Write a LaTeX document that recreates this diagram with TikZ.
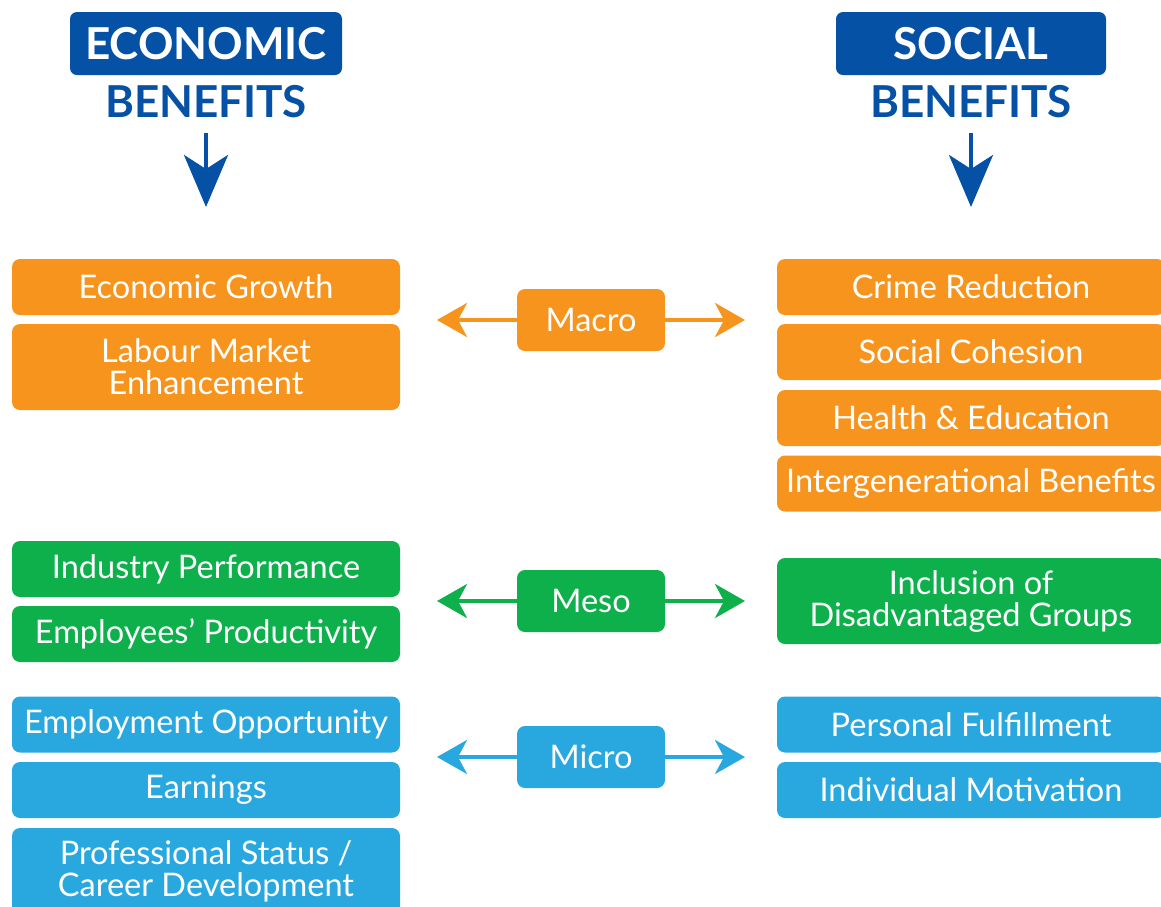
\documentclass[tikz,border=0pt]{standalone}
\usepackage{fontspec}
\setmainfont{Lato}
\usepackage{tikz}
\usetikzlibrary{arrows.meta, positioning}

\definecolor{darkblue}{HTML}{0451A5}
\definecolor{macroorange}{HTML}{F7941D}
\definecolor{mesogreen}{HTML}{0DB04B}
\definecolor{microblue}{HTML}{29A8E0}

\begin{document}
\begin{tikzpicture}[x=1pt, y=-1pt,
    box/.style    = {rounded corners=8pt, text=white, align=center,
                     minimum width=388pt, minimum height=56pt, inner sep=0pt,
                     font=\fontsize{32.5}{32}\selectfont},
    tall/.style   = {minimum height=86pt},
    level/.style  = {rounded corners=8pt, text=white, minimum width=148pt,
                     minimum height=62pt, inner sep=0pt,
                     font=\fontsize{32.5}{32}\selectfont},
    title/.style  = {fill=darkblue, rounded corners=7pt, text=white,
                     minimum height=63pt, inner sep=0pt,
                     font=\fontsize{44}{44}\selectfont\bfseries},
    benefit/.style= {text=darkblue, inner sep=0pt,
                     font=\fontsize{44}{44}\selectfont\bfseries},
    oneway/.style = {line width=4pt, -{Stealth[length=30pt, width=34pt, inset=9pt]}},
    down/.style   = {line width=4pt, darkblue, -{Stealth[length=52pt, width=44pt, inset=14pt]}},
  ]
  \clip (0,0) rectangle (1161,906);

  % headers
  \node[title, minimum width=272pt] (eco) at (206,43.5) {ECONOMIC};
  \node[benefit] (ecoben) at (206,102) {BENEFITS};
  \node[title, minimum width=270pt] (soc) at (971,43.5) {SOCIAL};
  \node[benefit] (socben) at (971,102) {BENEFITS};
  \coordinate (ecotip) at (206,207);
  \coordinate (soctip) at (971,207);
  \draw[down] (206,133) -- (ecotip);
  \draw[down] (971,133) -- (soctip);

  % economic side
  \node[box, fill=macroorange] (growth) at (206,287) {Economic Growth};
  \node[box, tall, fill=macroorange] (labour) at (206,367) {Labour Market\\Enhancement};
  \node[box, fill=mesogreen] (industry) at (206,569) {Industry Performance};
  \node[box, fill=mesogreen] (productivity) at (206,634) {Employees’ Productivity};
  \node[box, fill=microblue] (employment) at (206,724.5) {Employment Opportunity};
  \node[box, fill=microblue] (earnings) at (206,790) {Earnings};
  \node[box, tall, fill=microblue] (career) at (206,871) {Professional Status /\\Career Development};

  % social side
  \node[box, fill=macroorange] (crime) at (971,287) {Crime Reduction};
  \node[box, fill=macroorange] (cohesion) at (971,352) {Social Cohesion};
  \node[box, fill=macroorange] (health) at (971,418) {Health \& Education};
  \node[box, fill=macroorange] (intergen) at (971,483.5) {Intergenerational Benefits};
  \node[box, tall, fill=mesogreen] (inclusion) at (971,601) {Inclusion of\\Disadvantaged Groups};
  \node[box, fill=microblue] (fulfil) at (971,724.5) {Personal Fulfillment};
  \node[box, fill=microblue] (motivation) at (971,790) {Individual Motivation};

  % levels
  \node[level, fill=macroorange] (macro) at (591,320) {Macro};
  \node[level, fill=mesogreen] (meso) at (591,601) {Meso};
  \node[level, fill=microblue] (micro) at (591,757) {Micro};

  \coordinate (macroL) at (437,320);  \coordinate (macroR) at (745,320);
  \coordinate (mesoL) at (437,601);   \coordinate (mesoR) at (745,601);
  \coordinate (microL) at (437,757);  \coordinate (microR) at (745,757);
  \draw[oneway, macroorange] (macro.west) -- (macroL);
  \draw[oneway, macroorange] (macro.east) -- (macroR);
  \draw[oneway, mesogreen] (meso.west) -- (mesoL);
  \draw[oneway, mesogreen] (meso.east) -- (mesoR);
  \draw[oneway, microblue] (micro.west) -- (microL);
  \draw[oneway, microblue] (micro.east) -- (microR);
\end{tikzpicture}
\end{document}
